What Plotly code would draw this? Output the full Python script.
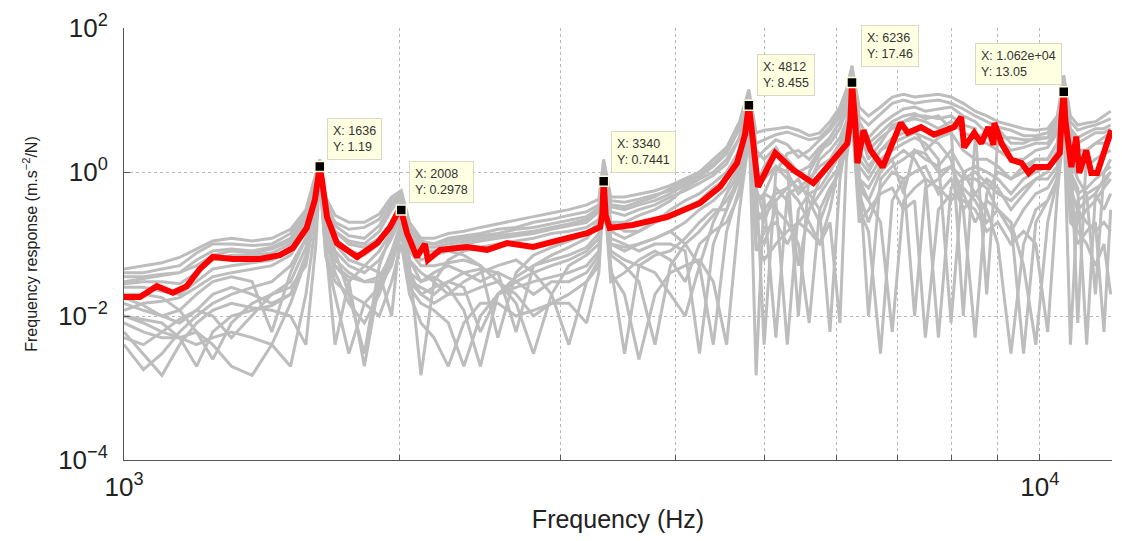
import numpy as np
import plotly.graph_objects as go

# ---------------- data ----------------
red_freq = [1000, 1041, 1086, 1131, 1171, 1210, 1250, 1315, 1406, 1479,
            1529, 1583, 1616, 1636, 1645, 1666, 1708, 1797, 1890, 1952,
            1992, 2008, 2017, 2037, 2088, 2115, 2131, 2147, 2214, 2369,
            2492, 2620, 2797, 2994, 3205, 3311, 3328, 3340, 3357, 3391,
            3593, 3916, 4254, 4474, 4670, 4765, 4812, 4861, 4924, 5141,
            5380, 5658, 5951, 6165, 6212, 6236, 6290, 6322, 6420, 6535,
            6736, 7050, 7176, 7416, 7664, 8061, 8206, 8268, 8480, 8632,
            8786, 8898, 8921, 9081, 9314, 9554, 9723, 9874, 10230, 10516,
            10555, 10620, 10662, 10715, 10825, 10960, 11044, 11238, 11381, 11553,
            11761, 11968]
red_resp = [0.0184, 0.0184, 0.026, 0.021, 0.026, 0.045, 0.066, 0.062, 0.062, 0.070,
            0.088, 0.167, 0.41, 1.19, 0.77, 0.237, 0.103, 0.066, 0.103, 0.172,
            0.28, 0.2978, 0.23, 0.142, 0.066, 0.083, 0.10, 0.060, 0.083, 0.091,
            0.083, 0.103, 0.091, 0.114, 0.142, 0.172, 0.25, 0.7441, 0.25, 0.167,
            0.184, 0.237, 0.37, 0.62, 1.33, 3.3, 8.455, 2.78, 0.62, 1.84,
            1.07, 0.70, 1.47, 2.5, 5.3, 17.46, 4.5, 1.33, 3.8, 2.0,
            1.17, 4.8, 3.5, 4.2, 3.3, 4.2, 5.8, 2.2, 3.5, 2.5,
            4.2, 2.37, 4.8, 2.5, 1.47, 1.33, 0.97, 1.17, 1.17, 1.84,
            5.3, 13.05, 5.3, 3.1, 1.17, 3.1, 0.97, 2.0, 0.97, 0.97,
            1.84, 3.8]

gray_freq = [1000, 1050, 1100, 1150, 1200, 1250, 1310, 1380, 1450, 1520,
             1580, 1620, 1636, 1660, 1700, 1760, 1830, 1900, 1960, 2008,
             2050, 2110, 2180, 2260, 2350, 2450, 2560, 2680, 2800, 2930,
             3060, 3200, 3300, 3340, 3400, 3520, 3650, 3800, 3950, 4100,
             4250, 4400, 4550, 4700, 4812, 4900, 5000, 5150, 5300, 5450,
             5600, 5750, 5900, 6050, 6150, 6236, 6350, 6500, 6700, 6900,
             7100, 7300, 7500, 7750, 8000, 8250, 8500, 8750, 9000, 9300,
             9600, 9900, 10200, 10450, 10620, 10800, 11000, 11250, 11500, 11750,
             11950]

gray_a = [0.045, 0.05, 0.055, 0.065, 0.085, 0.11, 0.12, 0.11, 0.12, 0.16,
          0.3, 0.9, 1.5, 0.45, 0.25, 0.2, 0.2, 0.26, 0.45, 0.55,
          0.2, 0.12, 0.12, 0.14, 0.15, 0.17, 0.19, 0.21, 0.24, 0.27,
          0.3, 0.35, 0.42, 1.5, 0.45, 0.45, 0.5, 0.55, 0.65, 0.8,
          1.0, 1.5, 2.2, 5.0, 14, 3.5, 3.8, 4.0, 4.2, 3.8,
          3.2, 3.5, 5, 8, 14, 30, 8, 6, 8, 11,
          12, 11, 11.5, 12, 11, 9, 7, 6, 5, 4.5,
          4, 3.8, 4, 6, 22, 6, 4.5, 4.8, 5, 6,
          7]
gray_k = [0.04, 0.04, 0.045, 0.05, 0.075, 0.1, 0.1, 0.095, 0.1, 0.14,
          0.28, 0.85, 1.4, 0.35, 0.2, 0.16, 0.17, 0.22, 0.4, 0.5,
          0.17, 0.11, 0.1, 0.12, 0.13, 0.14, 0.16, 0.17, 0.2, 0.22,
          0.25, 0.28, 0.35, 1.4, 0.4, 0.38, 0.42, 0.48, 0.55, 0.7,
          0.9, 1.3, 1.9, 4.5, 12, 2.5, 2.8, 3.3, 3.6, 3.2,
          2.8, 3.0, 4.2, 7, 12, 25, 6, 4.5, 6.5, 9,
          10, 9, 9.5, 10, 9, 7.5, 6, 5, 4.2, 3.8,
          3.2, 3.2, 3.5, 5.5, 18, 5, 3.8, 4.2, 4.5, 5,
          5.5]
gray_b = [0.03, 0.033, 0.036, 0.04, 0.06, 0.08, 0.085, 0.08, 0.09, 0.12,
          0.25, 0.8, 1.3, 0.4, 0.18, 0.13, 0.12, 0.18, 0.35, 0.5,
          0.15, 0.1, 0.1, 0.11, 0.12, 0.13, 0.14, 0.16, 0.17, 0.19,
          0.21, 0.24, 0.32, 1.3, 0.33, 0.3, 0.35, 0.4, 0.5, 0.65,
          0.85, 1.2, 1.8, 4.0, 11, 1.5, 2.0, 2.8, 2.4, 1.6,
          2.0, 2.8, 3.8, 6, 10, 22, 5, 3, 4.5, 6,
          7.5, 8, 7, 7.5, 8, 6, 5, 3.5, 4, 2.5,
          2.5, 3, 3, 5, 16, 4, 3, 3.5, 4, 4,
          4.5]
gray_c = [0.028, 0.03, 0.03, 0.028, 0.04, 0.06, 0.07, 0.07, 0.075, 0.1,
          0.2, 0.7, 1.2, 0.3, 0.15, 0.1, 0.09, 0.12, 0.2, 0.35,
          0.05, 0.0015, 0.03, 0.06, 0.08, 0.09, 0.1, 0.11, 0.12, 0.14,
          0.15, 0.17, 0.22, 1.0, 0.2, 0.2, 0.25, 0.3, 0.4, 0.6,
          0.8, 1.0, 1.5, 3.0, 9, 0.6, 1.2, 2.0, 1.5, 1.0,
          1.2, 2.0, 2.5, 4.0, 7, 18, 3, 2, 3, 4,
          5, 5.5, 5, 4, 5, 3.5, 3, 2.5, 2, 1.5,
          1.5, 2, 2.2, 3.5, 14, 2.5, 2, 2, 2.5, 2.5,
          3]
gray_d = [0.015, 0.012, 0.01, 0.012, 0.02, 0.03, 0.035, 0.03, 0.006, 0.04,
          0.12, 0.5, 1.0, 0.2, 0.08, 0.05, 0.04, 0.06, 0.12, 0.25,
          0.06, 0.03, 0.04, 0.05, 0.04, 0.03, 0.04, 0.006, 0.05, 0.07,
          0.09, 0.12, 0.18, 0.9, 0.15, 0.12, 0.15, 0.2, 0.3, 0.4,
          0.5, 0.7, 1.0, 2.0, 6, 0.0015, 0.5, 1.2, 1.0, 0.5,
          0.7, 1.5, 2.0, 3.0, 5, 12, 1.5, 1.0, 2.0, 3,
          3.5, 4, 2, 3, 3.5, 2, 1.5, 1.5, 1.2, 0.8,
          1.0, 1.5, 1.5, 2.5, 10, 1.5, 1.0, 1.2, 1.5, 1.8,
          2]
gray_e = [0.006, 0.003, 0.0015, 0.004, 0.008, 0.012, 0.015, 0.013, 0.012, 0.01,
          0.004, 0.1, 0.9, 0.15, 0.05, 0.03, 0.002, 0.03, 0.08, 0.2,
          0.04, 0.02, 0.025, 0.03, 0.025, 0.006, 0.02, 0.03, 0.04, 0.05,
          0.06, 0.08, 0.12, 0.8, 0.1, 0.08, 0.1, 0.12, 0.15, 0.2,
          0.3, 0.4, 0.6, 1.2, 5, 0.3, 0.2, 0.6, 0.4, 0.05,
          0.3, 0.8, 1.2, 2.0, 3.5, 10, 0.8, 0.4, 1.0, 1.5,
          0.5, 2, 1.5, 1.2, 2, 1.0, 0.5, 0.8, 0.6, 0.3,
          0.5, 0.8, 1.0, 1.8, 8, 0.8, 0.5, 0.6, 0.8, 1.0,
          1.2]
gray_f = [0.01, 0.008, 0.006, 0.005, 0.006, 0.004, 0.002, 0.0015, 0.004, 0.015,
          0.06, 0.4, 0.9, 0.12, 0.04, 0.015, 0.008, 0.02, 0.06, 0.15,
          0.025, 0.015, 0.012, 0.008, 0.002, 0.01, 0.02, 0.025, 0.03, 0.035,
          0.04, 0.05, 0.08, 0.7, 0.07, 0.05, 0.03, 0.004, 0.05, 0.1,
          0.15, 0.25, 0.4, 0.8, 4, 0.15, 0.1, 0.3, 0.2, 0.1,
          0.008, 0.3, 0.6, 1.0, 2.5, 8, 0.5, 0.2, 0.6, 1.0,
          0.8, 0.01, 0.6, 0.8, 1.2, 0.5, 0.2, 0.4, 0.3, 0.15,
          0.3, 0.5, 0.6, 1.0, 6, 0.4, 0.2, 0.3, 0.4, 0.6,
          0.8]
gray_g = [0.02, 0.02, 0.018, 0.012, 0.006, 0.0025, 0.008, 0.015, 0.02, 0.03,
          0.09, 0.5, 1.1, 0.2, 0.1, 0.06, 0.05, 0.04, 0.01, 0.2,
          0.08, 0.05, 0.05, 0.055, 0.06, 0.05, 0.03, 0.015, 0.003, 0.02,
          0.05, 0.07, 0.1, 1.1, 0.12, 0.1, 0.08, 0.1, 0.1, 0.08,
          0.003, 0.1, 0.3, 1.0, 5, 0.5, 0.4, 0.005, 0.5, 0.6,
          0.8, 1.2, 1.5, 2.5, 4, 12, 1.2, 0.8, 1.5, 2,
          2.5, 3, 2.5, 1.5, 0.008, 1.0, 1.2, 1.0, 0.8, 0.5,
          0.8, 1.0, 1.2, 2.0, 9, 1.0, 0.6, 0.004, 0.5, 0.8,
          1.0]
gray_h = [0.008, 0.006, 0.005, 0.005, 0.004, 0.005, 0.006, 0.005, 0.004, 0.002,
          0.02, 0.2, 0.8, 0.08, 0.03, 0.02, 0.015, 0.01, 0.03, 0.1,
          0.02, 0.008, 0.005, 0.002, 0.008, 0.015, 0.015, 0.01, 0.012, 0.015,
          0.02, 0.03, 0.05, 0.6, 0.04, 0.02, 0.0025, 0.02, 0.04, 0.05,
          0.06, 0.03, 0.004, 0.3, 3, 0.08, 0.15, 0.2, 0.1, 0.2,
          0.3, 0.5, 0.8, 1.2, 2, 6, 0.3, 0.15, 0.003, 0.4,
          0.8, 1.0, 1.2, 0.5, 0.8, 0.3, 0.5, 0.3, 0.1, 0.003,
          0.1, 0.3, 0.4, 0.8, 5, 0.3, 0.1, 0.15, 0.2, 0.006,
          0.3]
gray_i = [0.012, 0.015, 0.016, 0.018, 0.025, 0.035, 0.04, 0.045, 0.05, 0.07,
          0.15, 0.6, 1.1, 0.2, 0.08, 0.02, 0.003, 0.05, 0.15, 0.3,
          0.1, 0.06, 0.07, 0.08, 0.07, 0.05, 0.005, 0.04, 0.07, 0.09,
          0.11, 0.14, 0.2, 1.2, 0.2, 0.15, 0.15, 0.2, 0.25, 0.3,
          0.4, 0.6, 0.8, 1.5, 7, 1.0, 0.8, 1.2, 0.8, 0.6,
          0.5, 0.3, 0.006, 0.8, 3, 15, 2, 1.2, 2, 2.5,
          3, 3.5, 3, 2.5, 1.5, 0.3, 0.005, 0.5, 1.0, 0.8,
          1.2, 1.5, 1.5, 2.5, 11, 1.5, 0.8, 0.5, 0.02, 1.0,
          1.5]
gray_j = [0.004, 0.0018, 0.003, 0.006, 0.01, 0.015, 0.02, 0.025, 0.03, 0.05,
          0.12, 0.55, 1.0, 0.1, 0.004, 0.03, 0.05, 0.08, 0.15, 0.3,
          0.06, 0.04, 0.03, 0.02, 0.03, 0.04, 0.05, 0.06, 0.04, 0.02,
          0.004, 0.03, 0.06, 0.9, 0.08, 0.06, 0.05, 0.04, 0.02, 0.01,
          0.05, 0.2, 0.5, 1.0, 4, 0.2, 0.3, 0.5, 0.6, 0.4,
          0.2, 0.1, 0.3, 1.5, 3, 9, 1, 0.01, 0.8, 1.2,
          1.5, 2, 1.8, 1.0, 1.2, 0.8, 0.8, 0.6, 0.3, 0.2,
          0.05, 0.004, 0.2, 0.8, 7, 0.6, 0.3, 0.4, 0.5, 0.3,
          0.5]
gray_l = [0.018, 0.014, 0.01, 0.008, 0.012, 0.02, 0.025, 0.02, 0.015, 0.02,
          0.07, 0.45, 1.0, 0.15, 0.06, 0.04, 0.03, 0.03, 0.06, 0.18,
          0.03, 0.025, 0.02, 0.03, 0.04, 0.045, 0.04, 0.03, 0.02, 0.03,
          0.03, 0.04, 0.07, 0.7, 0.05, 0.003, 0.05, 0.07, 0.08, 0.12,
          0.2, 0.3, 0.3, 0.8, 4.5, 0.4, 0.5, 0.4, 0.004, 0.3,
          0.5, 0.6, 1.0, 1.8, 3, 7, 0.8, 0.6, 1.2, 1.5,
          2, 1.5, 0.8, 0.005, 0.6, 0.8, 1.0, 0.7, 0.5, 0.4,
          0.6, 0.8, 0.8, 1.2, 6, 0.004, 0.4, 0.5, 0.6, 0.7,
          1.0]
gray_m = [0.01, 0.009, 0.008, 0.005, 0.002, 0.006, 0.01, 0.012, 0.014, 0.02,
          0.06, 0.35, 0.9, 0.1, 0.05, 0.035, 0.03, 0.035, 0.07, 0.2,
          0.04, 0.03, 0.035, 0.025, 0.012, 0.002, 0.02, 0.035, 0.05, 0.06,
          0.07, 0.09, 0.14, 0.9, 0.1, 0.09, 0.1, 0.12, 0.15, 0.1,
          0.05, 0.004, 0.15, 0.6, 4, 0.6, 0.25, 0.4, 0.6, 0.8,
          0.4, 0.2, 0.5, 1.2, 2.5, 8, 0.6, 0.4, 0.2, 0.006,
          0.4, 0.6, 0.8, 0.6, 0.4, 0.6, 0.4, 0.2, 0.3, 0.2,
          0.003, 0.2, 0.4, 0.8, 5, 0.5, 0.3, 0.2, 0.15, 0.2,
          0.15]
gray_n = [0.025, 0.025, 0.022, 0.02, 0.03, 0.045, 0.05, 0.055, 0.06, 0.08,
          0.18, 0.65, 1.2, 0.25, 0.12, 0.08, 0.07, 0.1, 0.2, 0.4,
          0.12, 0.08, 0.08, 0.09, 0.1, 0.11, 0.12, 0.13, 0.14, 0.16,
          0.18, 0.2, 0.28, 1.2, 0.28, 0.25, 0.3, 0.35, 0.45, 0.55,
          0.7, 0.9, 1.3, 3.0, 10, 0.8, 0.004, 1.0, 1.8, 2.0,
          1.5, 2.2, 3.0, 5, 9, 20, 3.5, 2.5, 3.5, 5,
          6, 6.5, 5.5, 6, 4, 0.01, 3, 3.5, 3, 2,
          2.2, 2.5, 2.5, 4, 13, 3, 0.008, 2, 2.5, 3,
          3.5]
gray_o = [0.005, 0.004, 0.006, 0.009, 0.012, 0.01, 0.005, 0.01, 0.02, 0.025,
          0.05, 0.3, 0.85, 0.07, 0.02, 0.003, 0.015, 0.025, 0.05, 0.15,
          0.03, 0.02, 0.015, 0.02, 0.02, 0.025, 0.03, 0.02, 0.01, 0.015,
          0.015, 0.008, 0.04, 0.6, 0.03, 0.04, 0.06, 0.08, 0.06, 0.03,
          0.1, 0.15, 0.2, 0.5, 3.5, 0.1, 0.06, 0.1, 0.15, 0.2,
          0.15, 0.1, 0.2, 0.008, 1.5, 6, 0.2, 0.3, 0.5, 0.6,
          0.3, 0.4, 0.005, 0.3, 0.5, 0.4, 0.3, 0.15, 0.2, 0.1,
          0.15, 0.1, 0.006, 0.5, 4, 0.2, 0.15, 0.1, 0.05, 0.1,
          0.02]
gray_p = [0.035, 0.035, 0.038, 0.04, 0.05, 0.07, 0.08, 0.075, 0.085, 0.11,
          0.22, 0.75, 1.3, 0.3, 0.15, 0.11, 0.1, 0.15, 0.3, 0.45,
          0.13, 0.09, 0.09, 0.1, 0.11, 0.12, 0.13, 0.14, 0.15, 0.17,
          0.19, 0.22, 0.3, 1.3, 0.35, 0.33, 0.38, 0.45, 0.6, 0.75,
          1.0, 1.3, 2.0, 4.5, 12, 2.0, 1.5, 2.2, 1.2, 0.01,
          1.0, 1.8, 3.0, 5, 8, 18, 4, 1.5, 2.5, 4.5,
          5, 6, 6, 5.5, 6, 4.5, 4, 0.02, 3, 3,
          2.8, 2.8, 3, 4.5, 15, 3.5, 2.5, 3, 3.5, 3.5,
          4]

peak_freq = [1636, 2008, 3340, 4812, 6236, 10620]
peak_resp = [1.19, 0.2978, 0.7441, 8.455, 17.46, 13.05]

x_tick_vals = [1000, 10000]
x_tick_text = ["10<sup>3</sup>", "10<sup>4</sup>"]
x_minor_vals = [2000, 3000, 4000, 5000, 6000, 7000, 8000, 9000]
y_tick_vals = [1e-4, 1e-2, 1, 100]
y_tick_text = ["10<sup>−4</sup>", "10<sup>−2</sup>", "10<sup>0</sup>", "10<sup>2</sup>"]

# ---------------- figure ----------------
FONT = "Liberation Sans, Arial, Helvetica, sans-serif"
fig = go.Figure()

for g in [gray_a, gray_k, gray_b, gray_p, gray_n, gray_c, gray_d, gray_e,
          gray_f, gray_g, gray_h, gray_i, gray_j, gray_l, gray_m, gray_o]:
    fig.add_trace(go.Scatter(x=gray_freq, y=g, mode="lines",
                             line=dict(color="#bdbdbd", width=3),
                             hoverinfo="skip", showlegend=False))

fig.add_trace(go.Scatter(x=red_freq, y=red_resp, mode="lines",
                         line=dict(color="#ff0000", width=6),
                         showlegend=False))

fig.add_trace(go.Scatter(x=peak_freq, y=peak_resp, mode="markers",
                         marker=dict(symbol="square", size=10, color="black",
                                     line=dict(color="#ffffe0", width=1.5)),
                         showlegend=False))

# data tips
shifts = [(7, 7, "left"), (8, 7, "left"), (7, 8, "left"),
          (8, 9, "left"), (9, 16, "left"), (-2, 7, "right")]
for f, v, (dx, dy, anc) in zip(peak_freq, peak_resp, shifts):
    fig.add_annotation(
        x=np.log10(f), y=np.log10(v), xref="x", yref="y",
        text=f"X: {f:.4g}<br>Y: {v:.4g}", showarrow=False,
        xanchor=anc, yanchor="bottom", xshift=dx, yshift=dy,
        align="left", font=dict(family=FONT, size=12.5, color="#333333"),
        bgcolor="#ffffe1", bordercolor="#d8d8c4", borderwidth=1, borderpad=5)

axis_common = dict(
    type="log", showline=True, linecolor="#555555", linewidth=1,
    ticks="inside", ticklen=6, tickcolor="#555555",
    showgrid=True, gridcolor="#b8b8b8", griddash="dot", gridwidth=1,
    tickfont=dict(family=FONT, size=26, color="#222222"),
    zeroline=False, mirror=False,
)

fig.update_layout(
    width=1122, height=541,
    margin=dict(l=124, r=10, t=28, b=81),
    paper_bgcolor="white", plot_bgcolor="white",
    xaxis=dict(axis_common,
               range=[3, np.log10(11990)],
               tickvals=x_tick_vals, ticktext=x_tick_text,
               ticklabelstandoff=4,
               minor=dict(tickvals=x_minor_vals, ticks="inside", ticklen=5,
                          tickcolor="#555555", showgrid=True,
                          gridcolor="#b8b8b8", griddash="dot", gridwidth=1),
               title=dict(text="Frequency (Hz)", standoff=9,
                          font=dict(family=FONT, size=25, color="#222222"))),
    yaxis=dict(axis_common,
               range=[-4, 2],
               tickvals=y_tick_vals, ticktext=y_tick_text,
               ticklabelstandoff=10,
               title=dict(text="Frequency response (m.s<sup>−2</sup>/N)",
                          standoff=16,
                          font=dict(family=FONT, size=16, color="#222222"))),
)

fig.write_html("out.html")
